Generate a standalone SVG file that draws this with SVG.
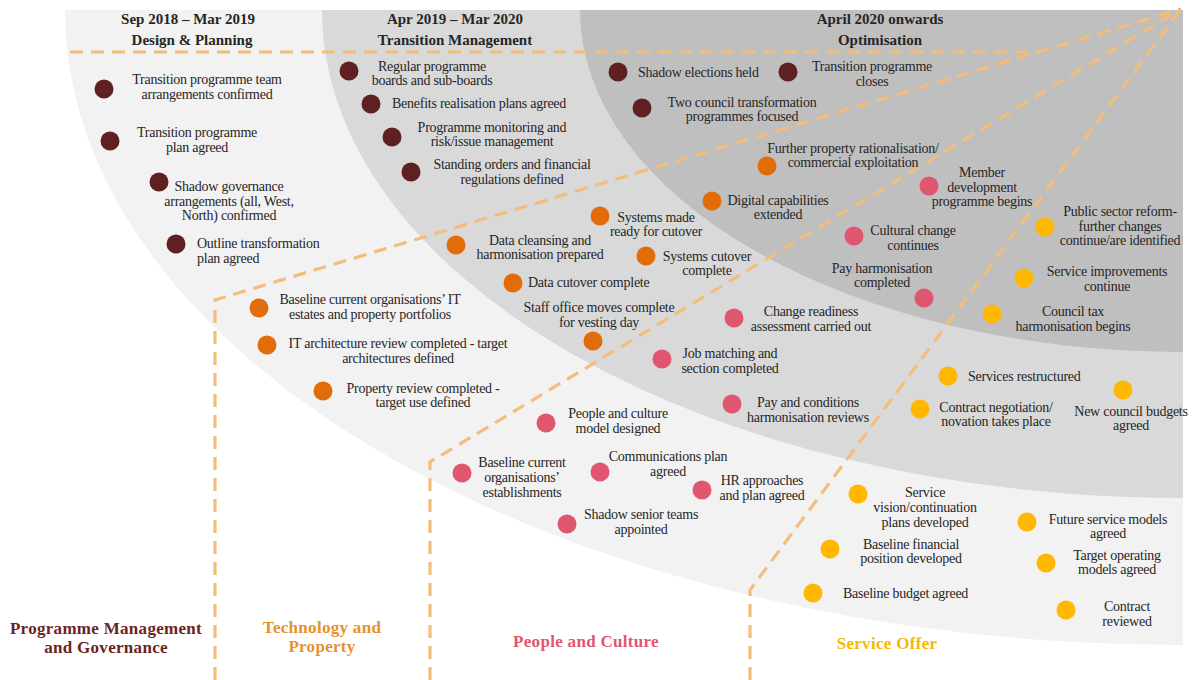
<svg xmlns="http://www.w3.org/2000/svg" width="1193" height="680" viewBox="0 0 1193 680">
<style>
.t{font-family:"Liberation Serif","Times New Roman",serif;font-size:14px;fill:#262626;letter-spacing:-0.25px}
.m{text-anchor:middle}
.h{font-family:"Liberation Serif","Times New Roman",serif;font-size:15px;font-weight:bold;fill:#262626;text-anchor:middle}
.b{font-family:"Liberation Serif","Times New Roman",serif;font-size:17px;font-weight:bold;text-anchor:middle;letter-spacing:0.3px}
.pm{fill:#5e2020}.tp{fill:#e36c0a}.pc{fill:#e0566f}.so{fill:#ffb700}
.d{fill:none;stroke:#f3bd7b;stroke-width:3.2;stroke-dasharray:13 8}
</style>
<rect width="1193" height="680" fill="#ffffff"/>
<g id="bands">
<path d="M65,10 L1183,10 L1183,645 A1118,635 0 0 1 65,10 Z" fill="#f2f2f2"/>
<path d="M322,10 L1183,10 L1183,498 A861,488 0 0 1 322,10 Z" fill="#d9d9d9"/>
<path d="M580,10 L1183,10 L1183,352 A603,342 0 0 1 580,10 Z" fill="#bfbfbf"/>
</g>
<g id="connectors">
<path class="d" d="M70,52 L1040,52"/>
<path class="d" d="M215,680 L215,300 L1181,9"/>
<path class="d" d="M430,680 L430,462 L1181,9"/>
<path class="d" d="M750,680 L750,590 L1181,9"/>
</g>
<g id="headers">
<text class="h" x="188" y="24">Sep 2018 – Mar 2019</text>
<text class="h" x="192" y="45">Design &amp; Planning</text>
<text class="h" x="455" y="24">Apr 2019 – Mar 2020</text>
<text class="h" x="455" y="45">Transition Management</text>
<text class="h" x="880" y="24">April 2020 onwards</text>
<text class="h" x="880" y="45">Optimisation</text>
</g>
<g id="streams">
<text class="b" x="106" y="634" fill="#6b2424">Programme Management<tspan x="106" dy="19">and Governance</tspan></text>
<text class="b" x="322" y="633" fill="#e8912b">Technology and<tspan x="322" dy="19">Property</tspan></text>
<text class="b" x="586" y="647" fill="#e0566f">People and Culture</text>
<text class="b" x="887" y="649" fill="#f5b800">Service Offer</text>
</g>
<g id="n1"><circle class="pm" cx="104" cy="89" r="9.5"/><text class="t m" x="207" y="84">Transition programme team<tspan x="207" dy="15">arrangements confirmed</tspan></text></g>
<g id="n2"><circle class="pm" cx="110" cy="141" r="9.5"/><text class="t m" x="197" y="137">Transition programme<tspan x="197" dy="15">plan agreed</tspan></text></g>
<g id="n3"><circle class="pm" cx="159" cy="182" r="9.5"/><text class="t m" x="229" y="191">Shadow governance<tspan x="229" dy="14.5">arrangements (all, West,</tspan><tspan x="229" dy="14.5">North) confirmed</tspan></text></g>
<g id="n4"><circle class="pm" cx="176" cy="244" r="9.5"/><text class="t" x="197" y="248">Outline transformation<tspan x="197" dy="15">plan agreed</tspan></text></g>
<g id="n5"><circle class="pm" cx="349" cy="71" r="9.5"/><text class="t m" x="432" y="71">Regular programme<tspan x="432" dy="14">boards and sub-boards</tspan></text></g>
<g id="n6"><circle class="pm" cx="371" cy="104" r="9.5"/><text class="t" x="392" y="108">Benefits realisation plans agreed</text></g>
<g id="n7"><circle class="pm" cx="392" cy="137" r="9.5"/><text class="t m" x="492" y="132">Programme monitoring and<tspan x="492" dy="14">risk/issue management</tspan></text></g>
<g id="n8"><circle class="pm" cx="411" cy="172" r="9.5"/><text class="t m" x="512" y="169">Standing orders and financial<tspan x="512" dy="15">regulations defined</tspan></text></g>
<g id="n9"><circle class="pm" cx="618" cy="72" r="9.5"/><text class="t" x="638" y="77">Shadow elections held</text></g>
<g id="n10"><circle class="pm" cx="788" cy="72" r="9.5"/><text class="t m" x="872" y="71">Transition programme<tspan x="872" dy="15">closes</tspan></text></g>
<g id="n11"><circle class="pm" cx="642" cy="108" r="9.5"/><text class="t m" x="742" y="107">Two council transformation<tspan x="742" dy="14">programmes focused</tspan></text></g>
<g id="n12"><circle class="tp" cx="767" cy="166" r="9.5"/><text class="t m" x="853" y="153">Further property rationalisation/<tspan x="853" dy="14">commercial exploitation</tspan></text></g>
<g id="n13"><circle class="tp" cx="712" cy="201" r="9.5"/><text class="t m" x="778" y="205">Digital capabilities<tspan x="778" dy="14">extended</tspan></text></g>
<g id="n14"><circle class="tp" cx="600" cy="216" r="9.5"/><text class="t m" x="656" y="222">Systems made<tspan x="656" dy="14">ready for cutover</tspan></text></g>
<g id="n15"><circle class="tp" cx="456" cy="245" r="9.5"/><text class="t m" x="540" y="245">Data cleansing and<tspan x="540" dy="14">harmonisation prepared</tspan></text></g>
<g id="n16"><circle class="tp" cx="646" cy="256" r="9.5"/><text class="t m" x="707" y="261">Systems cutover<tspan x="707" dy="14">complete</tspan></text></g>
<g id="n17"><circle class="tp" cx="513" cy="283" r="9.5"/><text class="t" x="528" y="287">Data cutover complete</text></g>
<g id="n18"><circle class="tp" cx="593" cy="341" r="9.5"/><text class="t m" x="599" y="312">Staff office moves complete<tspan x="599" dy="15">for vesting day</tspan></text></g>
<g id="n19"><circle class="tp" cx="259" cy="308" r="9.5"/><text class="t m" x="370" y="304">Baseline current organisations’ IT<tspan x="370" dy="15">estates and property portfolios</tspan></text></g>
<g id="n20"><circle class="tp" cx="267" cy="345" r="9.5"/><text class="t m" x="398" y="348">IT architecture review completed - target<tspan x="398" dy="15">architectures defined</tspan></text></g>
<g id="n21"><circle class="tp" cx="323" cy="391" r="9.5"/><text class="t m" x="423" y="393">Property review completed -<tspan x="423" dy="14">target use defined</tspan></text></g>
<g id="n22"><circle class="pc" cx="929" cy="186" r="9.5"/><text class="t m" x="982" y="177">Member<tspan x="982" dy="15">development</tspan><tspan x="982" dy="14">programme begins</tspan></text></g>
<g id="n23"><circle class="pc" cx="854" cy="236" r="9.5"/><text class="t m" x="913" y="235">Cultural change<tspan x="913" dy="15">continues</tspan></text></g>
<g id="n24"><circle class="pc" cx="924" cy="298" r="9.5"/><text class="t m" x="882" y="273">Pay harmonisation<tspan x="882" dy="14">completed</tspan></text></g>
<g id="n25"><circle class="pc" cx="734" cy="318" r="9.5"/><text class="t m" x="811" y="316">Change readiness<tspan x="811" dy="15">assessment carried out</tspan></text></g>
<g id="n26"><circle class="pc" cx="662" cy="359" r="9.5"/><text class="t m" x="730" y="358">Job matching and<tspan x="730" dy="15">section completed</tspan></text></g>
<g id="n27"><circle class="pc" cx="732" cy="404" r="9.5"/><text class="t m" x="808" y="407">Pay and conditions<tspan x="808" dy="15">harmonisation reviews</tspan></text></g>
<g id="n28"><circle class="pc" cx="546" cy="423" r="9.5"/><text class="t m" x="618" y="418">People and culture<tspan x="618" dy="15">model designed</tspan></text></g>
<g id="n29"><circle class="pc" cx="462" cy="473" r="9.5"/><text class="t m" x="522" y="467">Baseline current<tspan x="522" dy="15">organisations’</tspan><tspan x="522" dy="15">establishments</tspan></text></g>
<g id="n30"><circle class="pc" cx="600" cy="472" r="9.5"/><text class="t m" x="668" y="461">Communications plan<tspan x="668" dy="15">agreed</tspan></text></g>
<g id="n31"><circle class="pc" cx="702" cy="490" r="9.5"/><text class="t m" x="762" y="485">HR approaches<tspan x="762" dy="15">and plan agreed</tspan></text></g>
<g id="n32"><circle class="pc" cx="567" cy="524" r="9.5"/><text class="t m" x="641" y="519">Shadow senior teams<tspan x="641" dy="15">appointed</tspan></text></g>
<g id="n33"><circle class="so" cx="1045" cy="227" r="9.5"/><text class="t m" x="1120" y="216">Public sector reform-<tspan x="1120" dy="15">further changes</tspan><tspan x="1120" dy="14">continue/are identified</tspan></text></g>
<g id="n34"><circle class="so" cx="1024" cy="278" r="9.5"/><text class="t m" x="1107" y="276">Service improvements<tspan x="1107" dy="15">continue</tspan></text></g>
<g id="n35"><circle class="so" cx="992" cy="314" r="9.5"/><text class="t m" x="1073" y="316">Council tax<tspan x="1073" dy="15">harmonisation begins</tspan></text></g>
<g id="n36"><circle class="so" cx="948" cy="376" r="9.5"/><text class="t" x="968" y="381">Services restructured</text></g>
<g id="n37"><circle class="so" cx="920" cy="409" r="9.5"/><text class="t m" x="996" y="412">Contract negotiation/<tspan x="996" dy="14">novation takes place</tspan></text></g>
<g id="n38"><circle class="so" cx="1123" cy="390" r="9.5"/><text class="t m" x="1131" y="416">New council budgets<tspan x="1131" dy="14">agreed</tspan></text></g>
<g id="n39"><circle class="so" cx="858" cy="494" r="9.5"/><text class="t m" x="925" y="497">Service<tspan x="925" dy="15">vision/continuation</tspan><tspan x="925" dy="14.5">plans developed</tspan></text></g>
<g id="n40"><circle class="so" cx="830" cy="549" r="9.5"/><text class="t m" x="911" y="549">Baseline financial<tspan x="911" dy="14">position developed</tspan></text></g>
<g id="n41"><circle class="so" cx="813" cy="593" r="9.5"/><text class="t" x="843" y="598">Baseline budget agreed</text></g>
<g id="n42"><circle class="so" cx="1027" cy="522" r="9.5"/><text class="t m" x="1108" y="524">Future service models<tspan x="1108" dy="14">agreed</tspan></text></g>
<g id="n43"><circle class="so" cx="1046" cy="563" r="9.5"/><text class="t m" x="1117" y="560">Target operating<tspan x="1117" dy="14">models agreed</tspan></text></g>
<g id="n44"><circle class="so" cx="1066" cy="610" r="9.5"/><text class="t m" x="1127" y="611">Contract<tspan x="1127" dy="15">reviewed</tspan></text></g>
</svg>
